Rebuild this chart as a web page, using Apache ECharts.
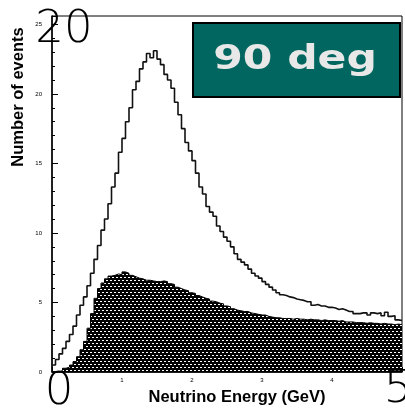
<!DOCTYPE html>
<html><head><meta charset="utf-8">
<script src="https://cdn.jsdelivr.net/npm/echarts@6/dist/echarts.min.js"></script>
<style>html,body{margin:0;padding:0;background:#fff}#c{width:405px;height:415px}</style>
</head><body><div id="c"></div>
<script>
const xMin = 0, xMax = 5, binWidth = 0.05;
const yMin = 0, yMax = 25.6, yStep = 5;
const xStep = 1;
const panelLabel = '90 deg';
const xTitle = 'Neutrino Energy (GeV)';
const yTitle = 'Number of events';
const bigYLabel = '20';
const bigXLabelLeft = '0';
const bigXLabelRight = '5';

// all events (open histogram), 100 bins of 0.05 GeV
const allEvents = [
  0.5, 0.9, 1.3, 1.7, 2.2, 2.7, 3.3, 4.1, 4.8, 5.4,
  6.2, 7.1, 8.1, 9.1, 10.2, 11.0, 12.1, 13.3, 14.3, 15.8,
  16.8, 18.0, 19.0, 20.3, 20.9, 21.8, 22.3, 22.9, 22.6, 23.1,
  22.5, 22.1, 21.4, 21.0, 20.4, 19.4, 18.5, 17.5, 16.5, 15.9,
  15.2, 14.3, 13.3, 12.8, 11.9, 11.5, 11.2, 10.5, 10.1, 9.7,
  9.4, 9.0, 8.5, 8.1, 7.9, 7.7, 7.4, 7.1, 6.9, 6.75,
  6.5, 6.3, 6.1, 5.9, 5.7, 5.55, 5.5, 5.4, 5.35, 5.25,
  5.2, 5.15, 5.05, 5.05, 4.8, 4.85, 4.75, 4.75, 4.65, 4.65,
  4.6, 4.5, 4.55, 4.45, 4.35, 4.35, 4.2, 4.2, 4.25, 4.25,
  4.1, 4.25, 4.2, 4.25, 4.05, 4.3, 4.0, 4.05, 3.75, 3.7
];
// hatched histogram
const hatchedEvents = [
  0, 0, 0.1, 0.27, 0.35, 0.5, 0.75, 1.1, 1.6, 2.2,
  3.15, 4.2, 5.3, 6.0, 6.4, 6.7, 6.9, 6.95, 7.05, 7.0,
  7.2, 7.1, 6.95, 6.85, 6.75, 6.7, 6.6, 6.6, 6.55, 6.5,
  6.5, 6.55, 6.5, 6.35, 6.3, 6.1, 6.0, 5.9, 5.85, 5.7,
  5.65, 5.5, 5.4, 5.3, 5.25, 5.1, 5.05, 4.95, 4.9, 4.75,
  4.7, 4.55, 4.45, 4.4, 4.35, 4.35, 4.25, 4.2, 4.15, 4.1,
  4.1, 4.0, 3.95, 3.9, 3.9, 3.85, 3.85, 3.85, 3.8, 3.85,
  3.8, 3.8, 3.75, 3.8, 3.75, 3.75, 3.7, 3.75, 3.7, 3.7,
  3.7, 3.65, 3.7, 3.6, 3.6, 3.6, 3.55, 3.55, 3.55, 3.5,
  3.55, 3.5, 3.5, 3.45, 3.5, 3.45, 3.45, 3.4, 3.45, 3.4
];

function stepData(vals) {
  const d = vals.map((v, i) => [xMin + i * binWidth, v]);
  d.push([xMax, vals[vals.length - 1]]);
  return d;
}

// hatch pattern: black with short white dashes in staggered columns
const pat = document.createElement('canvas');
pat.width = 8; pat.height = 6;
const pc = pat.getContext('2d');
pc.fillStyle = '#000'; pc.fillRect(0, 0, 8, 6);
pc.fillStyle = '#fff';
pc.fillRect(0, 1, 2, 1);
pc.fillRect(4, 1, 2, 1);
pc.fillRect(2, 4, 2, 1);
pc.fillRect(6, 4, 2, 1);

const chart = echarts.init(document.getElementById('c'), null, {renderer: 'canvas'});
chart.setOption({
  animation: false,
  backgroundColor: '#fff',
  grid: {left: 52, right: 3, top: 16, bottom: 43, show: true, borderColor: '#000', borderWidth: 1, backgroundColor: 'transparent'},
  xAxis: {
    type: 'value', min: xMin, max: xMax, interval: xStep,
    axisLine: {show: true, lineStyle: {color: '#000', width: 1.5}},
    axisTick: {show: true, inside: true, length: 5, lineStyle: {color: '#000'}},
    axisLabel: {fontSize: 6, color: '#000', margin: 5, formatter: v => (v === xMin || v === xMax) ? '' : String(v)},
    splitLine: {show: false}
  },
  yAxis: {
    type: 'value', min: yMin, max: yMax, interval: yStep,
    axisLine: {show: true, lineStyle: {color: '#000', width: 1.5}},
    axisTick: {show: true, inside: true, length: 6, lineStyle: {color: '#000'}},
    minorTick: {show: true, splitNumber: 5, length: 3, lineStyle: {color: '#000'}},
    axisLabel: {fontSize: 6, color: '#000', margin: 10, showMaxLabel: false},
    splitLine: {show: false}
  },
  series: [
    {
      type: 'line', step: 'end', symbol: 'none', data: stepData(hatchedEvents),
      lineStyle: {color: '#000', width: 1},
      areaStyle: {color: {image: pat, repeat: 'repeat'}, opacity: 1},
      z: 2
    },
    {
      type: 'line', step: 'end', symbol: 'none', data: stepData(allEvents),
      lineStyle: {color: '#111', width: 1.6},
      z: 3
    }
  ],
  graphic: [
    {type: 'rect', shape: {x: 193, y: 23, width: 207, height: 74}, style: {fill: '#00665f', stroke: '#000', lineWidth: 2}, z: 10},
    {type: 'text', x: 295, y: 60, scaleX: 1.25, style: {text: panelLabel, font: "bold 34px 'DejaVu Sans'", fill: '#e8e8e8', align: 'center', verticalAlign: 'middle'}, z: 11},
    {type: 'text', x: 64, y: 30, style: {text: bigYLabel, font: "200 45px 'DejaVu Sans'", fill: '#000', align: 'center', verticalAlign: 'middle'}, z: 11},
    {type: 'text', x: 59, y: 392, style: {text: bigXLabelLeft, font: "200 45px 'DejaVu Sans'", fill: '#000', align: 'center', verticalAlign: 'middle'}, z: 11},
    {type: 'text', x: 398, y: 390, style: {text: bigXLabelRight, font: "200 45px 'DejaVu Sans'", fill: '#000', align: 'center', verticalAlign: 'middle'}, z: 11},
    {type: 'text', x: 18, y: 97, rotation: Math.PI / 2, style: {text: yTitle, font: "bold 16.5px 'Liberation Sans'", fill: '#000', align: 'center', verticalAlign: 'middle'}, z: 11},
    {type: 'text', x: 237, y: 397, style: {text: xTitle, font: "bold 16.5px 'Liberation Sans'", fill: '#000', align: 'center', verticalAlign: 'middle'}, z: 11}
  ]
});
</script>
</body></html>
